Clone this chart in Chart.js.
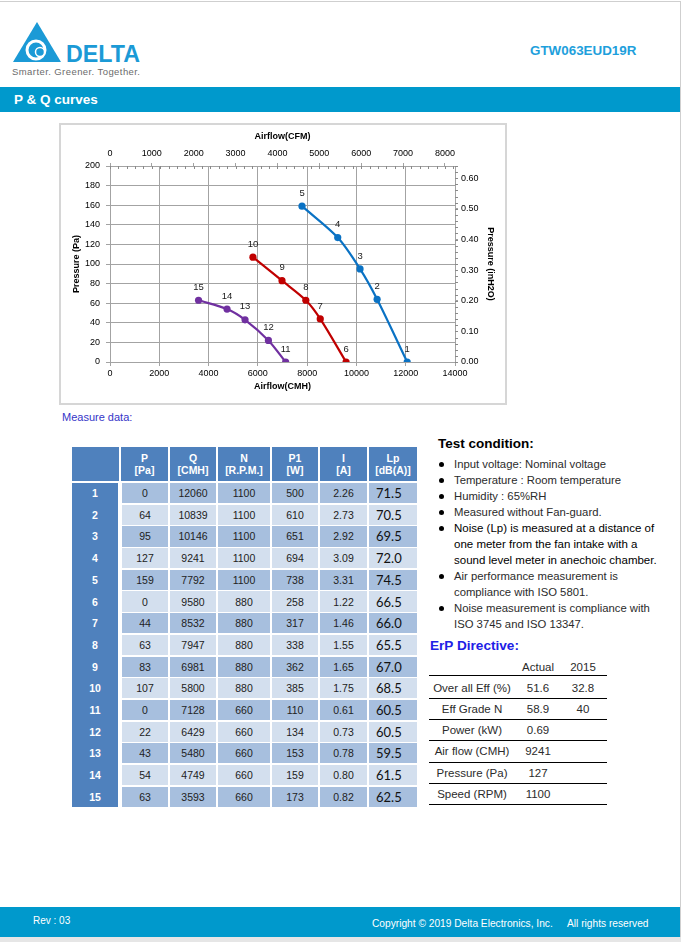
<!DOCTYPE html>
<html><head><meta charset="utf-8">
<script src="https://cdn.jsdelivr.net/npm/chart.js@4.4.0/dist/chart.umd.min.js"></script>
<style>
html,body{margin:0;padding:0}
body{width:682px;height:942px;position:relative;background:#fff;font-family:"Liberation Sans",Arial,sans-serif;overflow:hidden}
.abs{position:absolute;white-space:nowrap}
.cell{position:absolute;display:flex;align-items:center;justify-content:center;text-align:center;box-sizing:border-box}
</style></head><body>

<!-- page frame -->
<div class="abs" style="left:0;top:1px;width:681px;height:1px;background:#cfcfcf"></div>
<div class="abs" style="left:680px;top:1px;width:1px;height:941px;background:#cfcfcf"></div>

<!-- logo -->
<svg class="abs" style="left:0;top:0" width="160" height="85" viewBox="0 0 160 85">
  <polygon points="37,22 61,62 13,62" fill="#1b9ad6"/>
  <circle cx="36" cy="50" r="9" fill="none" stroke="#fff" stroke-width="3"/>
  <circle cx="40" cy="52" r="4.5" fill="#1b9ad6" stroke="#fff" stroke-width="1.5"/>
  <text x="66" y="62" font-family="Liberation Sans, Arial" font-weight="bold" font-size="23" fill="#1b9ad6" textLength="74" lengthAdjust="spacingAndGlyphs">DELTA</text>
  <text x="12" y="74.5" font-family="Liberation Sans, Arial" font-size="9.5" fill="#6b6b6b" textLength="128" lengthAdjust="spacing">Smarter.  Greener.  Together.</text>
</svg>
<div class="abs" style="left:530px;top:43px;font-weight:bold;font-size:13.4px;color:#1e9fdc">GTW063EUD19R</div>

<!-- header band -->
<div class="abs" style="left:0;top:87px;width:680px;height:25px;background:#0099cc"></div>
<div class="abs" style="left:14px;top:92px;font-weight:bold;font-size:13.5px;color:#fff">P &amp; Q curves</div>

<!-- chart box -->
<div class="abs" style="left:59px;top:123px;width:444px;height:278px;border:2px solid #d6d6d6">
  <canvas id="c" width="444" height="278" style="position:absolute;left:0;top:0;width:444px;height:278px"></canvas>
</div>

<div class="abs" style="left:62px;top:411px;font-size:11px;color:#3535c8">Measure data:</div>
<div id="tbl"></div>

<!-- test conditions -->
<div class="abs" style="left:438px;top:436px;font-weight:bold;font-size:13.5px;color:#000">Test condition:</div>
<div id="tc"></div>

<div class="abs" style="left:430px;top:638px;font-weight:bold;font-size:13.6px;color:#2020e6">ErP Directive:</div>
<div id="erp"></div>

<!-- footer -->
<div class="abs" style="left:0;top:907px;width:680px;height:30px;background:#0099cc"></div>
<div class="abs" style="left:0;top:937px;width:681px;height:5px;background:#e6e6e6"></div>
<div class="abs" style="left:33px;top:915px;font-size:10px;color:#fff">Rev : 03</div>
<div class="abs" style="left:372px;top:918px;font-size:10.2px;color:#fff">Copyright © 2019 Delta Electronics, Inc.</div>
<div class="abs" style="left:567px;top:918px;font-size:10.2px;color:#fff">All rights reserved</div>

<script>
// ---------- data ----------
const CMH_PER_CFM = 1.699;
const IN_H2O_AT_TOP = 0.64;            // right axis value at 200 Pa on the reference
const pointIds1100 = [1, 2, 3, 4, 5];
const flow1100  = [12060, 10839, 10146, 9241, 7792];
const press1100 = [0, 64, 95, 127, 159];
const pointIds880 = [6, 7, 8, 9, 10];
const flow880  = [9580, 8532, 7947, 6981, 5800];
const press880 = [0, 44, 63, 83, 107];
const pointIds660 = [11, 12, 13, 14, 15];
const flow660  = [7128, 6429, 5480, 4749, 3593];
const press660 = [0, 22, 43, 54, 63];

const tableHeads = ["", "P\n[Pa]", "Q\n[CMH]", "N\n[R.P.M.]", "P1\n[W]", "I\n[A]", "Lp\n[dB(A)]"];
const speedN = [1100,1100,1100,1100,1100, 880,880,880,880,880, 660,660,660,660,660];
const powerP1 = [500,610,651,694,738, 258,317,338,362,385, 110,134,153,159,173];
const currentI = ["2.26","2.73","2.92","3.09","3.31","1.22","1.46","1.55","1.65","1.75","0.61","0.73","0.78","0.80","0.82"];
const noiseLp = ["71.5","70.5","69.5","72.0","74.5","66.5","66.0","65.5","67.0","68.5","60.5","60.5","59.5","61.5","62.5"];

const testLines = [
  {t:"Input voltage: Nominal voltage", b:true},
  {t:"Temperature : Room temperature", b:true},
  {t:"Humidity : 65%RH", b:true},
  {t:"Measured without Fan-guard.", b:true},
  {t:"Noise (Lp) is measured at a distance of", b:true, dark:true},
  {t:"one meter from the fan intake with a", b:false, dark:true},
  {t:"sound level meter in anechoic chamber.", b:false, dark:true},
  {t:"Air performance measurement is", b:true},
  {t:"compliance with ISO 5801.", b:false},
  {t:"Noise measurement is compliance with", b:true},
  {t:"ISO 3745 and ISO 13347.", b:false}
];

const erpLabels = ["Over all Eff (%)", "Eff Grade N", "Power (kW)", "Air flow (CMH)", "Pressure (Pa)", "Speed (RPM)"];
const erpActual = ["51.6", "58.9", "0.69", "9241", "127", "1100"];
const erp2015   = ["32.8", "40", "", "", "", ""];

// ---------- chart ----------
const allIds = [pointIds1100, pointIds880, pointIds660];
const FONT = '"Liberation Sans", Arial, sans-serif';
function pts(xs, ys){ return xs.map((x,i)=>({x:x, y:ys[i]})); }
function ds(xs, ys, col){
  return {data: pts(xs, ys), borderColor: col, backgroundColor: col, borderWidth: 2.2,
    pointRadius: 3.6, pointHoverRadius: 3.6, pointBorderWidth: 0, tension: 0.3,
    xAxisID: 'x', yAxisID: 'y', fill: false};
}
function nearMultiple(v, step){ const q = v / step; return Math.abs(q - Math.round(q)) < 1e-6; }
const labelPlugin = {
  id: 'ptlabels',
  afterDatasetsDraw(chart){
    const c = chart.ctx;
    c.save();
    c.font = '9.5px ' + FONT; c.fillStyle = '#1a1a1a';
    c.textAlign = 'center'; c.textBaseline = 'middle';
    chart.data.datasets.forEach((d, di) => {
      chart.getDatasetMeta(di).data.forEach((p, i) => {
        c.fillText(String(allIds[di][i]), p.x, p.y - 13);
      });
    });
    c.restore();
  }
};
const minorPlugin = {
  id: 'minor',
  afterDraw(chart){
    const c = chart.ctx, a = chart.chartArea;
    c.save(); c.strokeStyle = '#8a8a8a'; c.lineWidth = 1; c.beginPath();
    const sx = chart.scales.x2;
    for (let k = 0; k * 200 <= sx.max; k++){
      const px = Math.round(sx.getPixelForValue(k * 200)) + 0.5;
      c.moveTo(px, a.top); c.lineTo(px, a.top + 3);
    }
    const sy = chart.scales.y2;
    for (let k = 0; k * 0.02 <= sy.max + 1e-9; k++){
      const py = Math.round(sy.getPixelForValue(k * 0.02)) + 0.5;
      c.moveTo(a.right, py); c.lineTo(a.right + 3, py);
    }
    c.stroke(); c.restore();
  }
};
const tickFont = {family: FONT, size: 9};
const titleFont = {family: FONT, size: 9, weight: 'bold'};
const gridCol = '#a3a3a3';
new Chart(document.getElementById('c'), {
  type: 'line',
  data: {datasets: [
    ds(flow1100, press1100, '#0a72c4'),
    ds(flow880, press880, '#c00000'),
    ds(flow660, press660, '#7030a0')
  ]},
  options: {
    responsive: false, animation: false, devicePixelRatio: 1,
    layout: {padding: 0},
    plugins: {legend: {display: false}, tooltip: {enabled: false}},
    scales: {
      x: {type: 'linear', position: 'bottom', min: 0, max: 14000,
        ticks: {stepSize: 2000, font: tickFont, color: '#000', padding: 2, maxRotation: 0, callback: v => String(v)},
        grid: {color: gridCol, tickLength: 4}, border: {color: gridCol},
        title: {display: true, text: 'Airflow(CMH)', font: titleFont, color: '#000', padding: {top: 0, bottom: 11.5}},
        afterFit: s => { s.height = 41; }},
      x2: {type: 'linear', position: 'top', min: 0, max: 14000 / CMH_PER_CFM,
        afterBuildTicks: s => {
          const out = [];
          for (let v = 0; v <= s.max; v += 1000) out.push({value: v});
          s.ticks = out;
        },
        ticks: {font: tickFont, color: '#000', padding: 4, maxRotation: 0, minRotation: 0, autoSkip: false,
          callback: v => String(Math.round(v))},
        grid: {drawOnChartArea: false, color: gridCol, tickLength: 3}, border: {color: gridCol},
        title: {display: true, text: 'Airflow(CFM)', font: titleFont, color: '#000', padding: {top: 6.5, bottom: 0}},
        afterFit: s => { s.height = 41; }},
      y: {type: 'linear', position: 'left', min: 0, max: 200,
        ticks: {stepSize: 20, font: tickFont, color: '#000', padding: 6},
        grid: {color: gridCol, tickLength: 4}, border: {color: gridCol},
        title: {display: true, text: 'Pressure (Pa)', font: titleFont, color: '#000', padding: {top: 10.5, bottom: 0}},
        afterFit: s => { s.width = 49; }},
      y2: {type: 'linear', position: 'right', min: 0, max: IN_H2O_AT_TOP,
        afterBuildTicks: s => { s.ticks = s.ticks.filter(t => nearMultiple(t.value, 0.1)); },
        ticks: {stepSize: 0.1, font: tickFont, color: '#000', padding: 3, callback: v => Number(v).toFixed(2)},
        grid: {drawOnChartArea: false, color: gridCol, tickLength: 3}, border: {color: gridCol},
        title: {display: true, text: 'Pressure (inH2O)', font: titleFont, color: '#000', padding: {top: 9.5, bottom: 0}},
        afterFit: s => { s.width = 50; }}
    }
  },
  plugins: [labelPlugin, minorPlugin]
});

// ---------- measure table ----------
const tbl = document.getElementById('tbl');
function cell(x, y, w, h, bg, txt, css){
  const d = document.createElement('div');
  d.className = 'cell';
  d.style.left = x + 'px'; d.style.top = y + 'px';
  d.style.width = w + 'px'; d.style.height = h + 'px';
  d.style.background = bg;
  if (css) Object.assign(d.style, css);
  d.innerHTML = txt;
  tbl.appendChild(d);
  return d;
}
const edges = [72, 120, 169, 217, 271, 319, 368, 418];
const HEAD = '#4f81bd', DARK = '#a7bfde', LIGHT = '#d3dfee';
tableHeads.forEach((h, i) => {
  const l = edges[i] + (i ? 1 : 0);
  cell(l, 447, edges[i+1] - l - 1, 34, HEAD, h.replace('\n', '<br>'),
    {color: '#fff', fontWeight: 'bold', fontSize: '10.5px', lineHeight: '12px'});
});
const allP = press1100.concat(press880, press660);
const allQ = flow1100.concat(flow880, flow660);
const allIdsFlat = pointIds1100.concat(pointIds880, pointIds660);
const ROW0 = 483, RH = 21.69;
cell(72, ROW0, 46, RH * allIdsFlat.length - 1, HEAD, '');
allIdsFlat.forEach((id, r) => {
  const y = ROW0 + r * RH;
  cell(72, y, 46, RH - 1.5, 'transparent', String(id), {color: '#fff', fontWeight: 'bold', fontSize: '10.5px'});
  const bg = (r % 2 === 0) ? DARK : LIGHT;
  const vals = [allP[r], allQ[r], speedN[r], powerP1[r], currentI[r], noiseLp[r]];
  vals.forEach((v, k) => {
    const i = k + 1;
    const l = (i === 1) ? 122 : edges[i] + 1;
    const w = edges[i+1] - 1 - l;
    const css = (k === 5)
      ? {color: '#111', fontSize: '13px', fontFamily: 'Lato, "Open Sans", sans-serif', justifyContent: 'flex-start', paddingLeft: '7px'}
      : {color: '#222', fontSize: '10.5px'};
    cell(l, y, w, RH - 1.5, bg, String(v), css);
  });
});

// ---------- test condition ----------
const tc = document.getElementById('tc');
testLines.forEach((ln, i) => {
  const cy = 464 + i * 16;
  if (ln.b){
    const b = document.createElement('div');
    b.className = 'abs';
    Object.assign(b.style, {left: '439px', top: (cy - 2.5) + 'px', width: '5px', height: '5px', borderRadius: '50%', background: '#000'});
    tc.appendChild(b);
  }
  const t = document.createElement('div');
  t.className = 'abs';
  Object.assign(t.style, {left: '454px', top: (cy - 8) + 'px', lineHeight: '16px',
    fontSize: ln.dark ? '11.5px' : '11.3px', color: ln.dark ? '#000' : '#2b2b2b'});
  t.textContent = ln.t;
  tc.appendChild(t);
});

// ---------- ErP table ----------
const erp = document.getElementById('erp');
function txt(x, cy, w, s, css){
  const d = document.createElement('div');
  d.className = 'abs';
  Object.assign(d.style, {left: x + 'px', top: (cy - 8) + 'px', width: w + 'px', lineHeight: '16px', textAlign: 'center', fontSize: '11.5px', color: '#2b2b2b'});
  if (css) Object.assign(d.style, css);
  d.textContent = s;
  erp.appendChild(d);
}
function hline(y){
  const d = document.createElement('div');
  d.className = 'abs';
  Object.assign(d.style, {left: '429px', top: y + 'px', width: '178px', height: '1px', background: '#000'});
  erp.appendChild(d);
}
txt(513, 667, 50, 'Actual');
txt(562, 667, 42, '2015');
hline(675);
const erpY = [688, 709, 730, 751, 773, 794];
const erpLineY = [698, 719, 740, 762, 783, 804];
erpLabels.forEach((l, i) => {
  txt(430, erpY[i], 84, l);
  txt(513, erpY[i], 50, erpActual[i]);
  txt(562, erpY[i], 42, erp2015[i]);
  hline(erpLineY[i]);
});
</script>
</body></html>
